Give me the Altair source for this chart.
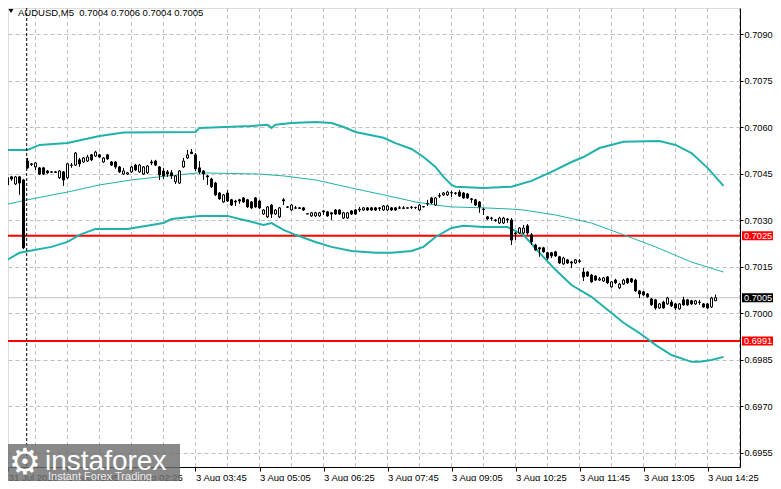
import altair as alt
import pandas as pd

# ---------------- data ----------------
opens = [0.70427,0.70414,0.70440,0.70417,0.70440,0.70430,0.70491,0.70482,0.70472,0.70469,
 0.70469,0.70459,0.70456,0.70456,0.70437,0.70456,0.70437,0.70478,0.70478,0.70495,
 0.70488,0.70491,0.70511,0.70507,0.70511,0.70488,0.70511,0.70488,0.70488,0.70472,
 0.70449,0.70449,0.70456,0.70478,0.70456,0.70449,0.70453,0.70488,0.70491,0.70472,
 0.70459,0.70456,0.70453,0.70424,0.70420,0.70472,0.70501,0.70520,0.70511,0.70469,
 0.70459,0.70443,0.70433,0.70420,0.70388,0.70359,0.70388,0.70366,0.70362,0.70366,
 0.70372,0.70366,0.70359,0.70372,0.70362,0.70320,0.70311,0.70349,0.70320,0.70311,
 0.70366,0.70343,0.70333,0.70340,0.70340,0.70340,0.70320,0.70314,0.70314,0.70314,
 0.70330,0.70327,0.70324,0.70333,0.70333,0.70307,0.70307,0.70330,0.70333,0.70333,
 0.70333,0.70340,0.70340,0.70340,0.70340,0.70333,0.70333,0.70340,0.70340,0.70340,
 0.70338,0.70340,0.70341,0.70341,0.70333,0.70343,0.70353,0.70372,0.70349,0.70378,
 0.70382,0.70382,0.70388,0.70388,0.70391,0.70388,0.70385,0.70369,0.70366,0.70359,
 0.70336,0.70311,0.70307,0.70301,0.70291,0.70291,0.70302,0.70301,0.70259,0.70259,
 0.70259,0.70282,0.70253,0.70220,0.70211,0.70211,0.70195,0.70195,0.70198,0.70182,
 0.70159,0.70172,0.70165,0.70162,0.70169,0.70133,0.70133,0.70123,0.70120,0.70107,
 0.70104,0.70117,0.70085,0.70107,0.70082,0.70094,0.70111,0.70111,0.70107,0.70072,
 0.70069,0.70062,0.70046,0.70043,0.70017,0.70036,0.70030,0.70036,0.70030,0.70014,
 0.70043,0.70043,0.70040,0.70030,0.70036,0.70030,0.70030,0.70020,0.70040]
highs = [0.70433,0.70440,0.70443,0.70443,0.70443,0.70433,0.70501,0.70485,0.70488,0.70472,
 0.70472,0.70462,0.70459,0.70459,0.70462,0.70459,0.70485,0.70485,0.70520,0.70501,
 0.70504,0.70511,0.70514,0.70524,0.70514,0.70504,0.70514,0.70491,0.70491,0.70475,
 0.70469,0.70456,0.70475,0.70482,0.70482,0.70475,0.70478,0.70495,0.70495,0.70475,
 0.70469,0.70462,0.70462,0.70446,0.70462,0.70501,0.70527,0.70530,0.70517,0.70491,
 0.70462,0.70446,0.70437,0.70424,0.70391,0.70385,0.70398,0.70369,0.70366,0.70369,
 0.70375,0.70369,0.70362,0.70375,0.70366,0.70336,0.70346,0.70353,0.70336,0.70343,
 0.70372,0.70346,0.70353,0.70346,0.70343,0.70343,0.70322,0.70327,0.70327,0.70327,
 0.70333,0.70330,0.70327,0.70336,0.70336,0.70327,0.70327,0.70333,0.70336,0.70343,
 0.70343,0.70343,0.70343,0.70343,0.70343,0.70349,0.70349,0.70343,0.70343,0.70346,
 0.70346,0.70341,0.70346,0.70343,0.70353,0.70345,0.70366,0.70375,0.70375,0.70388,
 0.70391,0.70395,0.70395,0.70391,0.70398,0.70391,0.70388,0.70372,0.70369,0.70362,
 0.70340,0.70314,0.70311,0.70304,0.70311,0.70311,0.70307,0.70307,0.70262,0.70278,
 0.70285,0.70288,0.70259,0.70224,0.70214,0.70214,0.70198,0.70198,0.70201,0.70185,
 0.70182,0.70175,0.70169,0.70175,0.70175,0.70146,0.70136,0.70127,0.70123,0.70117,
 0.70117,0.70120,0.70104,0.70111,0.70098,0.70111,0.70114,0.70114,0.70111,0.70075,
 0.70072,0.70065,0.70049,0.70046,0.70033,0.70040,0.70053,0.70043,0.70033,0.70033,
 0.70053,0.70046,0.70043,0.70043,0.70043,0.70033,0.70033,0.70053,0.70060]
lows = [0.70401,0.70411,0.70427,0.70414,0.70382,0.70207,0.70466,0.70475,0.70462,0.70446,
 0.70446,0.70449,0.70453,0.70453,0.70433,0.70411,0.70433,0.70469,0.70475,0.70472,
 0.70485,0.70488,0.70491,0.70504,0.70501,0.70485,0.70495,0.70475,0.70466,0.70453,
 0.70446,0.70446,0.70453,0.70459,0.70453,0.70446,0.70449,0.70478,0.70475,0.70430,
 0.70433,0.70440,0.70433,0.70417,0.70417,0.70469,0.70498,0.70514,0.70459,0.70449,
 0.70430,0.70414,0.70404,0.70378,0.70366,0.70356,0.70359,0.70346,0.70346,0.70353,
 0.70356,0.70340,0.70336,0.70340,0.70336,0.70317,0.70307,0.70307,0.70317,0.70307,
 0.70349,0.70340,0.70330,0.70336,0.70336,0.70330,0.70319,0.70311,0.70311,0.70311,
 0.70317,0.70311,0.70301,0.70317,0.70317,0.70304,0.70304,0.70317,0.70317,0.70327,
 0.70330,0.70330,0.70330,0.70330,0.70330,0.70330,0.70330,0.70330,0.70330,0.70336,
 0.70336,0.70338,0.70336,0.70336,0.70330,0.70341,0.70346,0.70353,0.70346,0.70372,
 0.70378,0.70378,0.70375,0.70382,0.70375,0.70369,0.70369,0.70356,0.70346,0.70324,
 0.70317,0.70301,0.70298,0.70295,0.70288,0.70288,0.70291,0.70220,0.70236,0.70256,
 0.70256,0.70253,0.70220,0.70201,0.70182,0.70195,0.70172,0.70178,0.70182,0.70159,
 0.70156,0.70159,0.70146,0.70159,0.70162,0.70104,0.70117,0.70098,0.70104,0.70104,
 0.70101,0.70094,0.70082,0.70094,0.70078,0.70091,0.70094,0.70098,0.70069,0.70049,
 0.70056,0.70049,0.70024,0.70011,0.70014,0.70014,0.70027,0.70020,0.70011,0.70011,
 0.70024,0.70024,0.70027,0.70027,0.70027,0.70017,0.70014,0.70017,0.70040]
closes = [0.70411,0.70437,0.70433,0.70440,0.70420,0.70211,0.70469,0.70480,0.70485,0.70449,
 0.70449,0.70453,0.70455,0.70454,0.70459,0.70430,0.70482,0.70477,0.70517,0.70482,
 0.70501,0.70504,0.70495,0.70520,0.70504,0.70501,0.70498,0.70478,0.70472,0.70456,
 0.70459,0.70453,0.70472,0.70462,0.70478,0.70472,0.70475,0.70485,0.70478,0.70446,
 0.70443,0.70449,0.70443,0.70443,0.70459,0.70491,0.70511,0.70515,0.70466,0.70456,
 0.70449,0.70440,0.70408,0.70382,0.70369,0.70382,0.70362,0.70349,0.70359,0.70362,
 0.70359,0.70343,0.70340,0.70343,0.70340,0.70333,0.70343,0.70320,0.70333,0.70340,
 0.70362,0.70342,0.70349,0.70339,0.70338,0.70333,0.70321,0.70324,0.70324,0.70324,
 0.70327,0.70314,0.70320,0.70320,0.70320,0.70324,0.70324,0.70320,0.70320,0.70336,
 0.70340,0.70333,0.70333,0.70333,0.70338,0.70346,0.70346,0.70333,0.70333,0.70339,
 0.70340,0.70339,0.70342,0.70342,0.70349,0.70344,0.70354,0.70356,0.70372,0.70380,
 0.70388,0.70391,0.70389,0.70387,0.70378,0.70372,0.70372,0.70367,0.70349,0.70343,
 0.70335,0.70304,0.70306,0.70299,0.70307,0.70307,0.70304,0.70236,0.70256,0.70275,
 0.70275,0.70259,0.70230,0.70204,0.70207,0.70198,0.70178,0.70185,0.70185,0.70162,
 0.70178,0.70162,0.70162,0.70172,0.70167,0.70117,0.70120,0.70101,0.70107,0.70111,
 0.70114,0.70098,0.70101,0.70098,0.70094,0.70107,0.70098,0.70101,0.70072,0.70062,
 0.70059,0.70053,0.70027,0.70017,0.70030,0.70017,0.70049,0.70024,0.70017,0.70030,
 0.70027,0.70027,0.70030,0.70040,0.70035,0.70020,0.70017,0.70049,0.70050]

upper_idx = [0, 6, 9, 16, 24, 30, 48, 49, 62, 66, 67, 68, 72, 78, 82, 85, 88, 95, 98, 102,
             105, 108, 110, 112, 113, 120, 127, 132, 137, 142, 145, 149, 155, 164, 168, 172, 176, 180]
upper_val = [0.70527, 0.70527, 0.70543, 0.70549, 0.70572, 0.70583, 0.70585, 0.70598, 0.70604, 0.70608,
             0.70598, 0.70608, 0.70614, 0.70617, 0.70614, 0.70601, 0.70585, 0.70566, 0.70549, 0.70530,
             0.70504, 0.70472, 0.70440, 0.70414, 0.70408, 0.70404, 0.70408, 0.70427, 0.70456, 0.70488,
             0.70504, 0.70533, 0.70553, 0.70556, 0.70543, 0.70517, 0.70469, 0.70411]
mid_idx = [0, 6, 16, 24, 32, 41, 49, 64, 70, 78, 87, 95, 103, 108, 112, 120, 127, 130, 138, 147,
           155, 163, 172, 180]
mid_val = [0.70349, 0.70366, 0.70391, 0.70414, 0.70430, 0.70443, 0.70453, 0.70449, 0.70443, 0.70430,
           0.70404, 0.70382, 0.70359, 0.70349, 0.70343, 0.70340, 0.70336, 0.70333, 0.70317, 0.70291,
           0.70253, 0.70214, 0.70165, 0.70133]
lower_idx = [0, 4, 7, 12, 16, 19, 23, 31, 40, 42, 49, 56, 59, 62, 65, 67, 70, 73, 78, 82,
             87, 93, 97, 102, 105, 108, 112, 115, 120, 126, 130, 134, 138, 142, 147, 151, 155, 159,
             163, 167, 172, 174, 177, 180]
lower_val = [0.70165, 0.70195, 0.70202, 0.70214, 0.70230, 0.70253, 0.70272, 0.70272, 0.70291, 0.70304,
             0.70314, 0.70314, 0.70304, 0.70295, 0.70285, 0.70291, 0.70269, 0.70253, 0.70230, 0.70214,
             0.70201, 0.70195, 0.70195, 0.70201, 0.70214, 0.70246, 0.70275, 0.70282, 0.70278, 0.70278,
             0.70253, 0.70195, 0.70140, 0.70091, 0.70053, 0.70011, 0.69969, 0.69936, 0.69898, 0.69865,
             0.69843, 0.69843, 0.69849, 0.69859]

red_levels = [0.7025, 0.6991]
red_labels = ["0.7025", "0.6991"]
bid_level = [0.7005]
bid_label = ["0.7005"]

y_ticks = [0.6955, 0.6970, 0.6985, 0.7000, 0.7015, 0.7030, 0.7045, 0.7060, 0.7075, 0.7090]
x_tick_idx = [1.2, 16, 32, 48, 64, 80, 96, 112, 128, 144, 160, 176]
x_tick_lbl = ["31 Jul 2026", "3 Aug 01:05", "3 Aug 02:25", "3 Aug 03:45", "3 Aug 05:05",
              "3 Aug 06:25", "3 Aug 07:45", "3 Aug 09:05", "3 Aug 10:25", "3 Aug 11:45",
              "3 Aug 13:05", "3 Aug 14:25"]
vgrid_idx = [0, 8, 16, 24, 32, 40, 48, 56, 64, 72, 80, 88, 96, 104, 112, 120, 128, 136, 144,
             152, 160, 168, 176, 184]
separator_idx = [5.8]
title_text = "AUDUSD,M5\u00a0\u00a00.7004 0.7006 0.7004 0.7005"

# ---------------- chart ----------------
W, H = 732, 459
FONT = "Liberation Sans"
TEAL = "#20b2aa"

bars = pd.DataFrame({"bar": list(range(len(opens))), "open": opens, "high": highs,
                     "low": lows, "close": closes})

xs = alt.Scale(domain=[1.125, 184.125], nice=False, zero=False, padding=0)
ys = alt.Scale(domain=[0.695037, 0.709849], nice=False, zero=False, padding=0)

label_expr = "''"
for v, s in reversed(list(zip(x_tick_idx, x_tick_lbl))):
    label_expr = f"datum.value == {v} ? '{s}' : {label_expr}"

x_axis = alt.Axis(orient="bottom", values=x_tick_idx, labelExpr=label_expr, title=None,
                  grid=False, tickSize=4, tickColor="black", domainColor="black",
                  labelAlign="left", labelPadding=1, labelFontSize=9.5, labelColor="black",
                  labelFlush=False, labelOverlap=False, labelFont=FONT)
y_axis = alt.Axis(orient="right", values=y_ticks, format=".4f", title=None, grid=True,
                  gridDash=[4, 3], gridColor="#c0c0c0", tickSize=3, tickColor="black",
                  domainColor="black", labelPadding=1, labelFontSize=9.2, labelColor="black",
                  labelFlush=False, labelOverlap=False, labelFont=FONT)

base = alt.Chart(bars).encode(x=alt.X("bar:Q", scale=xs, axis=x_axis))

vgrid = alt.Chart(pd.DataFrame({"bar": vgrid_idx})).mark_rule(
    color="#c0c0c0", strokeDash=[4, 3], strokeWidth=1, clip=True
).encode(x=alt.X("bar:Q", scale=xs, axis=x_axis), y=alt.value(0), y2=alt.value(H))

bid_line = alt.Chart(pd.DataFrame({"price": bid_level})).mark_rule(
    color="#c0c0c0", strokeWidth=1
).encode(y=alt.Y("price:Q", scale=ys, axis=y_axis), x=alt.value(0), x2=alt.value(W))

red_lines = alt.Chart(pd.DataFrame({"price": red_levels})).mark_rule(
    color="#ff0000", strokeWidth=2
).encode(y=alt.Y("price:Q", scale=ys), x=alt.value(0), x2=alt.value(W))

def band(idx, val, width):
    return alt.Chart(pd.DataFrame({"bar": idx, "price": val})).mark_line(
        color=TEAL, strokeWidth=width, clip=True
    ).encode(x=alt.X("bar:Q", scale=xs), y=alt.Y("price:Q", scale=ys))

upper = band(upper_idx, upper_val, 2)
mid = band(mid_idx, mid_val, 1)
lower = band(lower_idx, lower_val, 2)

wicks = base.mark_rule(color="black", strokeWidth=1, clip=True).encode(
    y=alt.Y("low:Q", scale=ys), y2="high:Q")
up_bodies = base.transform_filter("datum.close >= datum.open").mark_bar(
    size=2, fill="white", stroke="black", strokeWidth=1, clip=True
).encode(y=alt.Y("open:Q", scale=ys), y2="close:Q")
down_bodies = base.transform_filter("datum.close < datum.open").mark_bar(
    size=2, fill="black", stroke="black", strokeWidth=1, clip=True
).encode(y=alt.Y("open:Q", scale=ys), y2="close:Q")

separator = alt.Chart(pd.DataFrame({"bar": separator_idx})).mark_rule(
    color="black", strokeDash=[3, 2], strokeWidth=1
).encode(x=alt.X("bar:Q", scale=xs), y=alt.value(0), y2=alt.value(H))

title = alt.Chart(pd.DataFrame({"t": [title_text]})).mark_text(
    align="left", baseline="alphabetic", fontSize=9.5, color="black", font=FONT
).encode(x=alt.value(10), y=alt.value(7.5), text="t:N")
tri = alt.Chart(pd.DataFrame({"t": [1]})).mark_point(
    shape="triangle-down", filled=True, color="black", size=24, opacity=1
).encode(x=alt.value(3), y=alt.value(3))

red_boxes = alt.Chart(pd.DataFrame({"price": red_levels, "label": red_labels})).transform_calculate(
    lo="datum.price - 0.000145", hi="datum.price + 0.000145"
).mark_rect(color="#ff0000").encode(
    x=alt.value(734), x2=alt.value(771), y=alt.Y("lo:Q", scale=ys), y2="hi:Q")
bid_box = alt.Chart(pd.DataFrame({"price": bid_level, "label": bid_label})).transform_calculate(
    lo="datum.price - 0.000145", hi="datum.price + 0.000145"
).mark_rect(color="#000000").encode(
    x=alt.value(734), x2=alt.value(771), y=alt.Y("lo:Q", scale=ys), y2="hi:Q")
box_text = alt.Chart(pd.DataFrame({"price": red_levels + bid_level,
                                   "label": red_labels + bid_label})).mark_text(
    align="left", baseline="middle", fontSize=9.2, color="white", font=FONT
).encode(x=alt.value(736), y=alt.Y("price:Q", scale=ys), text="label:N")

wm_box = alt.Chart(pd.DataFrame({"t": [1]})).mark_rect(color="#6f6f6f", opacity=0.82).encode(
    x=alt.value(0), x2=alt.value(172), y=alt.value(436), y2=alt.value(473))
wm_gear = alt.Chart(pd.DataFrame({"t": ["\u2699"]})).mark_text(
    align="center", baseline="middle", fontSize=36, color="white", font="DejaVu Sans"
).encode(x=alt.value(17), y=alt.value(455), text="t:N")
wm_name = alt.Chart(pd.DataFrame({"t": ["instaforex"]})).mark_text(
    align="left", baseline="alphabetic", fontSize=28, color="white", font=FONT
).encode(x=alt.value(37), y=alt.value(462), text="t:N")
wm_sub = alt.Chart(pd.DataFrame({"t": ["Instant Forex Trading"]})).mark_text(
    align="left", baseline="alphabetic", fontSize=11, color="#eeeeee", font=FONT
).encode(x=alt.value(40), y=alt.value(472), text="t:N")

chart = alt.layer(
    vgrid, bid_line, red_lines, upper, mid, lower, wicks, up_bodies, down_bodies,
    separator, title, tri, red_boxes, bid_box, box_text, wm_box, wm_gear, wm_name, wm_sub
).properties(
    width=W, height=H,
    autosize=alt.AutoSizeParams(type="none"),
    padding={"left": 0, "top": 0, "right": 33, "bottom": 14},
).configure_view(stroke=None).configure(font=FONT)

chart.save("out.html", embed_options={"renderer": "svg", "actions": False})
